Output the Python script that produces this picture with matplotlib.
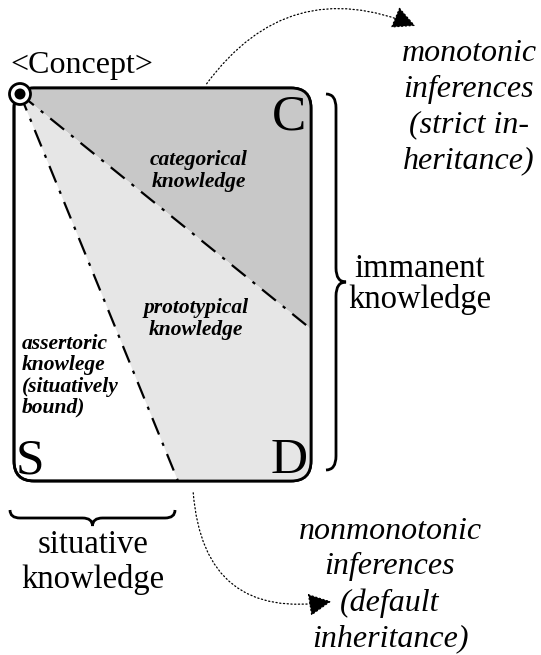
"""
Concept knowledge diagram: categorical / prototypical / assertoric regions.
"""
import matplotlib
matplotlib.use("Agg")
from matplotlib import pyplot as plt
from matplotlib.patches import FancyBboxPatch, Polygon, Circle, PathPatch, FancyArrowPatch
from matplotlib.path import Path

W, H = 541, 655

# box and region geometry (pixel coords, y downwards)
box = (14, 88, 311, 481)          # left, top, right, bottom
apex = (20, 94)
split_right = (311, 329)          # categorical / prototypical border on right edge
split_bottom = (178, 481)         # prototypical / assertoric border on bottom edge

corner_labels = ["C", "S", "D"]
corner_pos = [(289, 117), (30, 461), (289, 461)]

region_labels = ["categorical\nknowledge", "prototypical\nknowledge",
                 "assertoric\nknowlege\n(situatively\nbound)"]
region_pos = [(199, 171), (196, 319), (22, 376)]
region_align = ["center", "center", "left"]

side_labels = ["immanent\nknowledge", "situative\nknowledge"]
side_pos = [(420, 284), (93, 562)]

inference_labels = ["monotonic\ninferences\n(strict in-\nheritance)",
                    "nonmonotonic\ninferences\n(default\ninheritance)"]
inference_pos = [(469, 107), (390, 585)]

dark_grey = "#c8c8c8"
light_grey = "#e6e6e6"
serif = ["Liberation Serif", "DejaVu Serif"]

fig = plt.figure(figsize=(W / 100, H / 100), dpi=100)
ax = fig.add_axes([0, 0, 1, 1])
ax.set_xlim(0, W)
ax.set_ylim(H, 0)
ax.axis("off")

l, t, r, b = box
frame = FancyBboxPatch((l, t), r - l, b - t, boxstyle="round,pad=0,rounding_size=20",
                       fc="white", ec="black", lw=2, zorder=1)
ax.add_patch(frame)

dark = Polygon([apex, (apex[0], t - 10), (r + 5, t - 10), (r + 5, split_right[1]), split_right],
               closed=True, fc=dark_grey, ec="none", zorder=2)
light = Polygon([apex, split_right, (r + 5, split_right[1]), (r + 5, b + 5),
                 (split_bottom[0], b + 5), split_bottom],
                closed=True, fc=light_grey, ec="none", zorder=2)
for p in (dark, light):
    ax.add_patch(p)
    p.set_clip_path(frame)

# outline on top of the fills
ax.add_patch(FancyBboxPatch((l, t), r - l, b - t, boxstyle="round,pad=0,rounding_size=20",
                            fc="none", ec="black", lw=2, zorder=4))

for end in (split_right, split_bottom):
    ax.plot([apex[0], end[0]], [apex[1], end[1]], color="black", lw=1.6,
            linestyle=(0, (8, 4, 1.5, 4)), zorder=3)

ax.add_patch(Circle(apex, 10.5, fc="white", ec="black", lw=2, zorder=5))
ax.add_patch(Circle(apex, 5.5, fc="black", ec="none", zorder=6))

ax.text(10, 66, "<Concept>", family=serif, fontsize=23, ha="left", va="center")

for s, (x, y) in zip(corner_labels, corner_pos):
    ax.text(x, y, s, family=serif, fontsize=37, ha="center", va="center", zorder=6)

for s, (x, y), a in zip(region_labels, region_pos, region_align):
    ax.text(x, y, s, family=serif, fontsize=15.5, style="italic", weight="bold",
            ha=a, va="center", multialignment="left" if a == "left" else "center",
            linespacing=1.08, zorder=6)

for s, (x, y) in zip(side_labels, side_pos):
    ax.text(x, y, s, family=serif, fontsize=23.5, ha="center", va="center",
            linespacing=1.0 if s.startswith("imm") else 1.15)

for s, (x, y) in zip(inference_labels, inference_pos):
    ax.text(x, y, s, family=serif, fontsize=23, style="italic", ha="center", va="center",
            linespacing=1.3)


def brace(x0, y0, x1, y1, depth, vertical=True):
    # curly brace from (x0, y0) to (x1, y1), tip bulging by depth
    if vertical:
        ym = (y0 + y1) / 2
        xm = x0 + depth / 2
        c = 14
        verts = [(x0, y0), (xm, y0), (xm, y0 + c), (xm, y0 + c),
                 (xm, ym - c), (xm, ym), (x0 + depth, ym), (xm, ym), (xm, ym + c),
                 (xm, y1 - c), (xm, y1 - c), (xm, y1), (x0, y1)]
    else:
        xm = (x0 + x1) / 2
        ym = y0 + depth / 2
        c = 10
        verts = [(x0, y0), (x0, ym), (x0 + c, ym), (x0 + c, ym),
                 (xm - c, ym), (xm, ym), (xm, y0 + depth), (xm, ym), (xm + c, ym),
                 (x1 - c, ym), (x1 - c, ym), (x1, ym), (x1, y0)]
    codes = [Path.MOVETO, Path.CURVE3, Path.CURVE3, Path.LINETO,
             Path.LINETO, Path.CURVE3, Path.CURVE3, Path.CURVE3, Path.CURVE3,
             Path.LINETO, Path.LINETO, Path.CURVE3, Path.CURVE3]
    ax.add_patch(PathPatch(Path(verts, codes), fc="none", ec="black", lw=2))


brace(326, 94, 326, 470, 20, vertical=True)
brace(10, 510, 175, 510, 16, vertical=False)

arc_style = dict(arrowstyle="-|>,head_length=9,head_width=4.5", color="black",
                 lw=0.9, linestyle=(0, (1, 2)), mutation_scale=1.6)
ax.add_patch(FancyArrowPatch((205, 86), (418, 27), connectionstyle="arc3,rad=-0.4",
                             **arc_style))
ax.add_patch(FancyArrowPatch((193, 490), (334, 601), connectionstyle="arc3,rad=0.55",
                             **arc_style))

fig.savefig("out.png", dpi=100)
